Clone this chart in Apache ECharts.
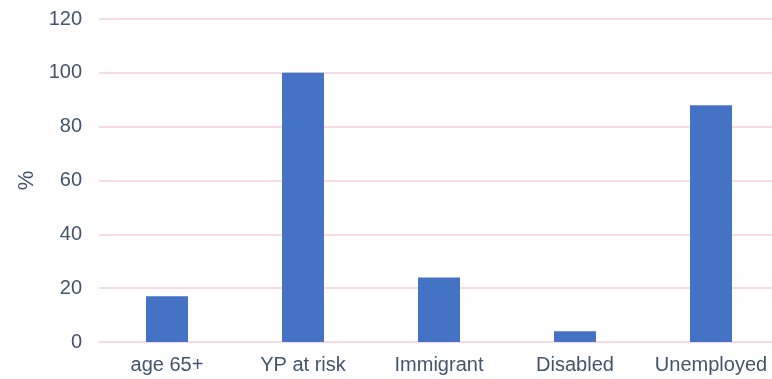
<!DOCTYPE html>
<html>
<head>
<meta charset="utf-8">
<script src="https://cdn.jsdelivr.net/npm/echarts@6/dist/echarts.min.js"></script>
<style>
  html, body { margin: 0; padding: 0; background: #ffffff; overflow: hidden; }
  /* plot area runs slightly past the right edge of the window */
  #chart { width: 779px; height: 379px; }
</style>
</head>
<body>
<div id="chart"></div>
<script>
// Share of each group, in percent
const categories = ['age 65+', 'YP at risk', 'Immigrant', 'Disabled', 'Unemployed'];
const values = [17, 100, 24, 4, 88];
const yTicks = { min: 0, max: 120, interval: 20 };

const textColor = '#44546A';
const fontFamily = 'Liberation Sans, Arial, sans-serif';
const chart = echarts.init(document.getElementById('chart'), null, { renderer: 'canvas' });
chart.setOption({
  animation: false,
  grid: { left: 99, right: 0, top: 19, bottom: 37 },
  xAxis: {
    type: 'category',
    data: categories,
    axisLine: { show: false },
    axisTick: { show: false },
    axisLabel: {
      interval: 0,
      color: textColor,
      fontFamily: fontFamily,
      fontSize: 20,
      margin: 13
    }
  },
  yAxis: {
    type: 'value',
    min: yTicks.min,
    max: yTicks.max,
    interval: yTicks.interval,
    name: '%',
    nameLocation: 'middle',
    nameGap: 60,
    nameRotate: 90,
    nameTextStyle: {
      color: textColor,
      fontFamily: fontFamily,
      fontSize: 22
    },
    axisLine: { show: false },
    axisTick: { show: false },
    axisLabel: {
      color: textColor,
      fontFamily: fontFamily,
      fontSize: 20,
      margin: 17
    },
    splitLine: { lineStyle: { color: '#F9D9E6', width: 2 } }
  },
  series: [{
    type: 'bar',
    data: values,
    barWidth: 42,
    itemStyle: { color: '#4472C4' }
  }]
});
</script>
</body>
</html>
